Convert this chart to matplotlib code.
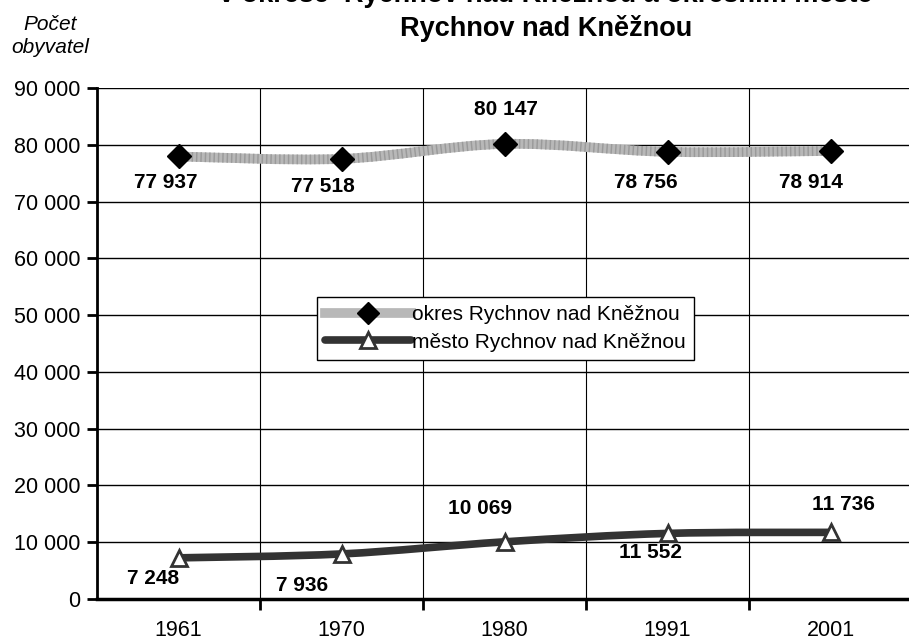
import matplotlib
matplotlib.use("Agg")
import matplotlib.pyplot as plt
from matplotlib.path import Path
from matplotlib.patches import PathPatch
from matplotlib.lines import Line2D

plt.rcParams['font.family'] = ['Liberation Sans', 'DejaVu Sans']

years = ['1961', '1970', '1980', '1991', '2001']
okres = [77937, 77518, 80147, 78756, 78914]
mesto = [7248, 7936, 10069, 11552, 11736]
okres_labels = ['77 937', '77 518', '80 147', '78 756', '78 914']
mesto_labels = ['7 248', '7 936', '10 069', '11 552', '11 736']
yticks = list(range(0, 90001, 10000))
ytick_labels = ['0'] + ['%d 000' % (v // 1000) for v in yticks[1:]]


def smooth_path(xs, ys):
    # Excel-like smoothed line: Catmull-Rom segments as cubic Bezier
    n = len(xs)
    verts = [(xs[0], ys[0])]
    codes = [Path.MOVETO]
    for i in range(n - 1):
        x0, y0 = (xs[i - 1], ys[i - 1]) if i > 0 else (xs[i], ys[i])
        x3, y3 = (xs[i + 2], ys[i + 2]) if i + 2 < n else (xs[i + 1], ys[i + 1])
        c1 = (xs[i] + (xs[i + 1] - x0) / 6, ys[i] + (ys[i + 1] - y0) / 6)
        c2 = (xs[i + 1] - (x3 - xs[i]) / 6, ys[i + 1] - (y3 - ys[i]) / 6)
        verts += [c1, c2, (xs[i + 1], ys[i + 1])]
        codes += [Path.CURVE4] * 3
    return Path(verts, codes)


fig = plt.figure(figsize=(9.09, 6.41), dpi=100)
ax = fig.add_axes([97 / 909, 42 / 641, 815 / 909, 511 / 641])

x = list(range(len(years)))
ax.set_xlim(-0.5, 4.5)
ax.set_ylim(0, 90000)

okres_col = '#b8b8b8'
mesto_col = '#333333'
ax.add_patch(PathPatch(smooth_path(x, okres), fill=False, edgecolor=okres_col,
                       lw=7, capstyle='butt', zorder=3))
ax.add_patch(PathPatch(smooth_path(x, okres), fill=False, edgecolor='#9a9a9a',
                       lw=7, ls=(0, (0.15, 0.3)), capstyle='butt', zorder=3))
ax.add_patch(PathPatch(smooth_path(x, mesto), fill=False, edgecolor=mesto_col,
                       lw=5.5, capstyle='butt', zorder=3))
ax.plot(x, okres, ls='none', marker='D', ms=12, color='black', zorder=4)
ax.plot(x, mesto, ls='none', marker='^', ms=12, mfc='white', mec=mesto_col,
        mew=2, zorder=4)

okres_off = [(-13, -26), (-19, -28), (1, 34), (-22, -31), (-20, -32)]
mesto_off = [(-25, -21), (-39, -32), (-24, 33), (-17, -19), (13, 28)]
for i in x:
    ax.annotate(okres_labels[i], (x[i], okres[i]), xytext=okres_off[i],
                textcoords='offset pixels', ha='center', va='center',
                fontsize=15, fontweight='bold', zorder=5)
    ax.annotate(mesto_labels[i], (x[i], mesto[i]), xytext=mesto_off[i],
                textcoords='offset pixels', ha='center', va='center',
                fontsize=15, fontweight='bold', zorder=5)

ax.set_yticks(yticks)
ax.set_yticklabels(ytick_labels, fontsize=15.5)
ax.set_xticks(x)
ax.set_xticklabels(years, fontsize=15.5)
ax.set_xticks([0.5, 1.5, 2.5, 3.5, 4.5], minor=True)
ax.tick_params(axis='x', which='major', length=0, pad=15)
ax.tick_params(axis='x', which='minor', length=8, width=2, direction='out')
ax.tick_params(axis='y', which='major', length=7, width=2, direction='out', pad=5)
ax.grid(axis='y', which='major', color='black', lw=1, zorder=0)
ax.grid(axis='x', which='minor', color='black', lw=0.8, zorder=0)
ax.set_axisbelow(True)
for s in ['top', 'right']:
    ax.spines[s].set_visible(False)
ax.spines['left'].set_linewidth(2)
ax.spines['bottom'].set_linewidth(2.5)
ax.spines['bottom'].set_zorder(6)

handles = [
    Line2D([], [], color=okres_col, lw=7, marker='D', ms=11, mfc='black', mec='black'),
    Line2D([], [], color=mesto_col, lw=5.5, marker='^', ms=11, mfc='white',
           mec=mesto_col, mew=2, solid_capstyle='round'),
]
leg = fig.legend(handles, ['okres Rychnov nad Kněžnou', 'město Rychnov nad Kněžnou'],
                 loc='upper left', bbox_to_anchor=(317 / 909, 1 - 297 / 641),
                 fontsize=15, frameon=True, fancybox=False, edgecolor='black',
                 framealpha=1, handlelength=4.1, handletextpad=0.05,
                 borderpad=0.4, labelspacing=0.4, borderaxespad=0)
leg.get_frame().set_linewidth(1)

fig.text(546 / 909, 1 - 2 / 641, 'v okrese  Rychnov nad Kněžnou a okresním městě',
         ha='center', va='baseline', fontsize=19.5, fontweight='bold')
fig.text(546 / 909, 1 - 36 / 641, 'Rychnov nad Kněžnou',
         ha='center', va='baseline', fontsize=19.5, fontweight='bold')
fig.text(50 / 909, 1 - 30 / 641, 'Počet', ha='center', va='baseline',
         fontsize=15, style='italic')
fig.text(50 / 909, 1 - 53 / 641, 'obyvatel', ha='center', va='baseline',
         fontsize=15, style='italic')

fig.savefig('out.png', dpi=100)
